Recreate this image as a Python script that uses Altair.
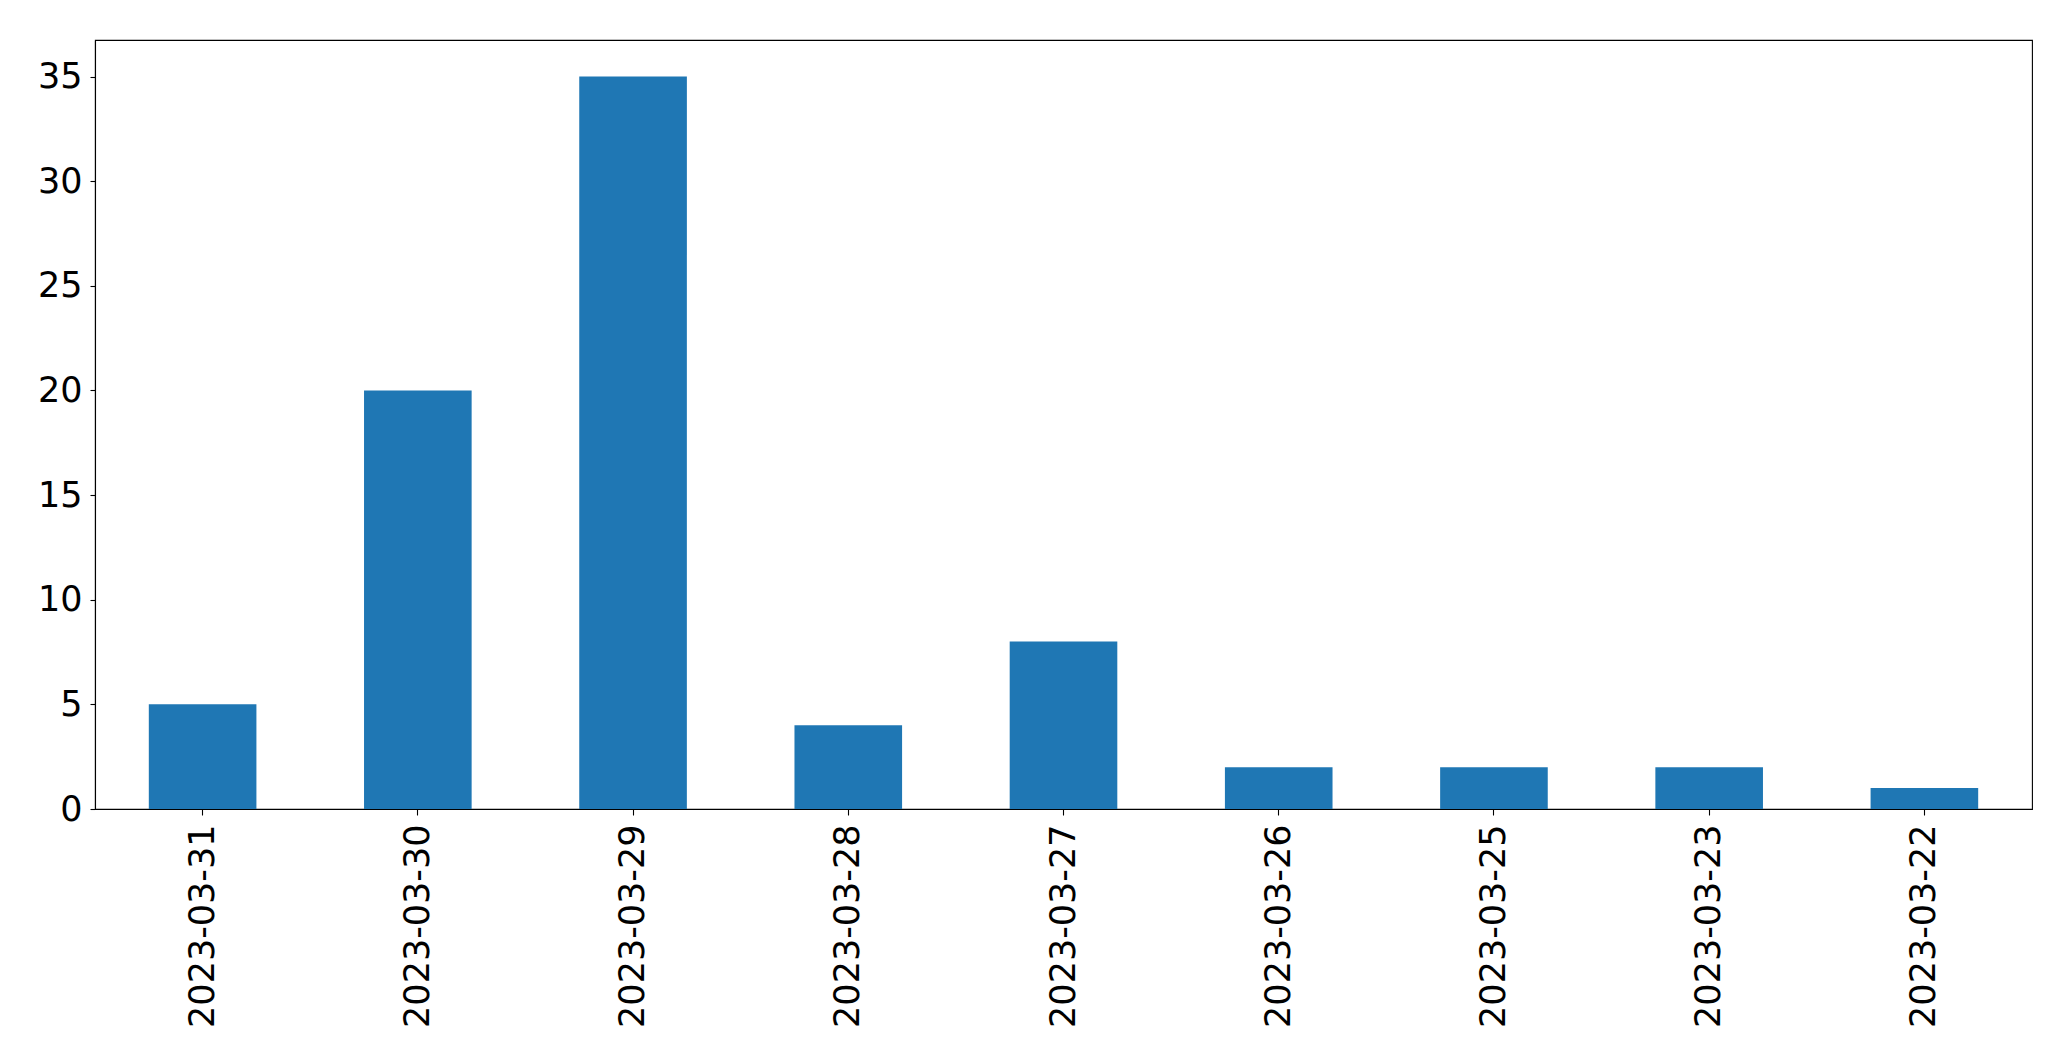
import altair as alt
import pandas as pd

dates = ["2023-03-31", "2023-03-30", "2023-03-29", "2023-03-28", "2023-03-27",
         "2023-03-26", "2023-03-25", "2023-03-23", "2023-03-22"]
counts = [5, 20, 35, 4, 8, 2, 2, 2, 1]
y_ticks = [0, 5, 10, 15, 20, 25, 30, 35]

df = pd.DataFrame({"date": dates, "count": counts})

FONT = "DejaVu Sans"

chart = alt.Chart(df).mark_bar(color="#1f77b4").encode(
    x=alt.X("date:N", sort=dates, title=None,
            scale=alt.Scale(paddingInner=0.5, paddingOuter=0.25),
            axis=alt.Axis(labelAngle=-90, labelFontSize=35, labelFont=FONT,
                          labelColor="black", tickColor="black", tickSize=6,
                          domainColor="black", domainWidth=1.1, tickWidth=1.1,
                          labelPadding=9, labelBaseline="middle", labelAlign="right",
                          labelLimit=1000)),
    y=alt.Y("count:Q", title=None,
            scale=alt.Scale(domain=[0, 36.75], nice=False, zero=True),
            axis=alt.Axis(values=y_ticks, grid=False, labelFontSize=35, labelFont=FONT,
                          labelColor="black", tickColor="black", tickSize=5,
                          domainColor="black", domainWidth=1.1, tickWidth=1.1,
                          labelPadding=8)),
).properties(
    width=1937, height=769,
    autosize=alt.AutoSizeParams(type="none"),
    padding={"left": 87, "top": 32, "right": 20, "bottom": 220},
).configure(
    background="white",
    view=alt.ViewConfig(stroke="black", strokeWidth=1.1),
)

chart.save("out.html", embed_options={"renderer": "svg", "actions": False})
